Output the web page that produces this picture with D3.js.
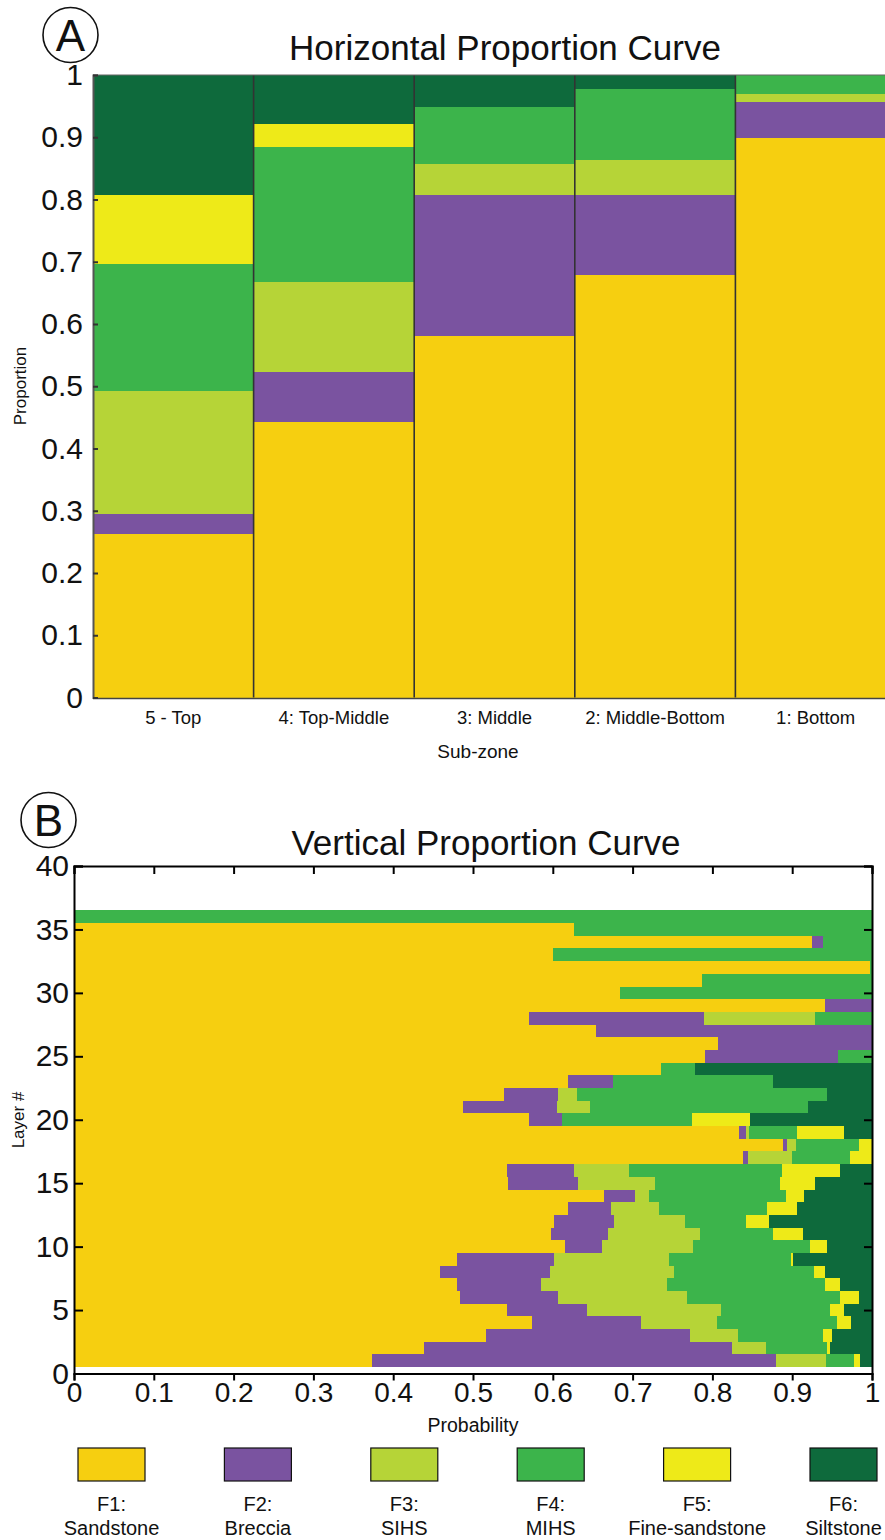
<!DOCTYPE html>
<html>
<head>
<meta charset="utf-8">
<script src="https://cdn.jsdelivr.net/npm/d3@7"></script>
<style>
  html, body { margin: 0; padding: 0; background: #fff; }
  svg { display: block; font-family: "Liberation Sans", Arial, Helvetica, sans-serif; }
</style>
</head>
<body>
<svg id="chart" width="885" height="1540"></svg>
<script>
// Facies definitions
const facies = ["F1", "F2", "F3", "F4", "F5", "F6"];
const faciesNames = ["Sandstone", "Breccia", "SIHS", "MIHS", "Fine-sandstone", "Siltstone"];
const faciesColors = ["#F6CF10", "#7A53A0", "#B6D437", "#3CB44B", "#EEEA18", "#0E6A3C"];

// Horizontal proportion curve: proportion of each facies per sub-zone
const subZones = ["5 - Top", "4: Top-Middle", "3: Middle", "2: Middle-Bottom", "1: Bottom"];
const hF1 = [0.262, 0.442, 0.580, 0.679, 0.899];
const hF2 = [0.033, 0.081, 0.227, 0.128, 0.058];
const hF3 = [0.198, 0.145, 0.050, 0.057, 0.012];
const hF4 = [0.203, 0.216, 0.092, 0.113, 0.031];
const hF5 = [0.112, 0.038, 0.000, 0.000, 0.000];
const hF6 = [0.192, 0.078, 0.051, 0.023, 0.000];
const propTicks = [0, 0.1, 0.2, 0.3, 0.4, 0.5, 0.6, 0.7, 0.8, 0.9, 1];

// Vertical proportion curve: probability of each facies per layer (layer 1 .. 36)
const layers = d3.range(1, 37);
const vF1 = [0.374, 0.438, 0.516, 0.574, 0.542, 0.484, 0.480, 0.459, 0.480, 0.615,
             0.598, 0.602, 0.619, 0.664, 0.544, 0.542, 0.838, 0.889, 0.833, 0.570,
             0.488, 0.539, 0.619, 0.736, 0.791, 0.807, 0.654, 0.570, 0.941, 0.684,
             0.787, 0.998, 0.600, 0.925, 0.627, 0.000];
const vF2 = [0.506, 0.386, 0.256, 0.137, 0.101, 0.123, 0.105, 0.137, 0.122, 0.047,
             0.071, 0.075, 0.054, 0.039, 0.087, 0.084, 0.007, 0.005, 0.009, 0.041,
             0.117, 0.068, 0.056, 0.000, 0.166, 0.193, 0.346, 0.219, 0.059, 0.000,
             0.000, 0.000, 0.000, 0.013, 0.000, 0.000];
const vF3 = [0.062, 0.043, 0.060, 0.095, 0.168, 0.161, 0.158, 0.156, 0.144, 0.114,
             0.116, 0.089, 0.060, 0.017, 0.097, 0.070, 0.055, 0.011, 0.004, 0.000,
             0.041, 0.023, 0.000, 0.000, 0.000, 0.000, 0.000, 0.140, 0.000, 0.000,
             0.000, 0.000, 0.000, 0.000, 0.000, 0.000];
const vF4 = [0.035, 0.076, 0.107, 0.150, 0.136, 0.192, 0.198, 0.175, 0.153, 0.146,
             0.091, 0.076, 0.136, 0.172, 0.157, 0.191, 0.072, 0.079, 0.060, 0.164,
             0.274, 0.313, 0.201, 0.042, 0.043, 0.000, 0.000, 0.071, 0.000, 0.316,
             0.213, 0.002, 0.400, 0.062, 0.373, 1.000];
const vF5 = [0.008, 0.004, 0.011, 0.018, 0.018, 0.024, 0.019, 0.014, 0.002, 0.021,
             0.037, 0.029, 0.037, 0.023, 0.044, 0.073, 0.028, 0.016, 0.059, 0.072,
             0.000, 0.000, 0.000, 0.000, 0.000, 0.000, 0.000, 0.000, 0.000, 0.000,
             0.000, 0.000, 0.000, 0.000, 0.000, 0.000];
const vF6 = [0.015, 0.053, 0.050, 0.026, 0.035, 0.016, 0.040, 0.059, 0.099, 0.057,
             0.087, 0.129, 0.094, 0.085, 0.071, 0.040, 0.000, 0.000, 0.035, 0.153,
             0.080, 0.057, 0.124, 0.222, 0.000, 0.000, 0.000, 0.000, 0.000, 0.000,
             0.000, 0.000, 0.000, 0.000, 0.000, 0.000];
const probTicks = [0, 0.1, 0.2, 0.3, 0.4, 0.5, 0.6, 0.7, 0.8, 0.9, 1];
const layerTicks = [0, 5, 10, 15, 20, 25, 30, 35, 40];

const svg = d3.select("#chart");
const stack = d3.stack().keys(facies);
const colorOf = d3.scaleOrdinal().domain(facies).range(faciesColors);

// Circled panel letters
function panelTag(cx, cy, letter) {
  const g = svg.append("g");
  g.append("circle").attr("cx", cx).attr("cy", cy).attr("r", 27.5)
    .attr("fill", "none").attr("stroke", "#111").attr("stroke-width", 1.6);
  g.append("text").attr("x", cx).attr("y", cy + 15.5).attr("text-anchor", "middle")
    .attr("font-size", 44).attr("fill", "#111").text(letter);
}

// ---------------- Panel A: horizontal proportion curve ----------------
(function () {
  const rows = subZones.map((z, i) => ({
    zone: z, F1: hF1[i], F2: hF2[i], F3: hF3[i], F4: hF4[i], F5: hF5[i], F6: hF6[i]
  }));
  const x = d3.scaleBand().domain(subZones).range([93, 896]).padding(0);
  const y = d3.scaleLinear().domain([0, 1]).range([697.5, 75]);
  const series = stack(rows);

  const g = svg.append("g");
  g.selectAll("g.layer").data(series).join("g")
    .attr("fill", d => colorOf(d.key))
    .selectAll("rect").data(d => d.filter(p => p[1] - p[0] > 0)).join("rect")
    .attr("x", d => x(d.data.zone))
    .attr("width", x.bandwidth())
    .attr("y", d => y(d[1]))
    .attr("height", d => y(d[0]) - y(d[1]))
    .attr("shape-rendering", "crispEdges");

  // column dividers
  g.selectAll("line.div").data(subZones.slice(1)).join("line")
    .attr("x1", d => x(d)).attr("x2", d => x(d))
    .attr("y1", y(1)).attr("y2", y(0))
    .attr("stroke", "#333").attr("stroke-width", 1.6);

  // frame
  g.append("line").attr("x1", 93).attr("x2", 896).attr("y1", y(1)).attr("y2", y(1))
    .attr("stroke", "#666").attr("stroke-width", 1.2);
  g.append("line").attr("x1", 93).attr("x2", 896).attr("y1", y(0) + 1).attr("y2", y(0) + 1)
    .attr("stroke", "#444").attr("stroke-width", 1.4);

  const yAxis = d3.axisLeft(y).tickValues(propTicks).tickSize(-5).tickPadding(10)
    .tickFormat(d => d3.format("")(d));
  const ya = svg.append("g").attr("transform", "translate(93,0)").call(yAxis);
  ya.select(".domain").attr("stroke", "#555").attr("stroke-width", 1.4);
  ya.selectAll(".tick line").attr("stroke", "#333");
  ya.selectAll("text").attr("font-size", 30).attr("fill", "#111")
    .attr("font-family", "Liberation Sans, Arial, sans-serif");

  const xAxis = d3.axisBottom(x).tickSize(0).tickPadding(13);
  const xa = svg.append("g").attr("transform", "translate(0,698)").call(xAxis);
  xa.select(".domain").remove();
  xa.selectAll("text").attr("font-size", 18.5).attr("fill", "#111")
    .attr("font-family", "Liberation Sans, Arial, sans-serif");

  svg.append("text").attr("x", 478).attr("y", 758).attr("text-anchor", "middle")
    .attr("font-size", 19).attr("fill", "#111").text("Sub-zone");
  svg.append("text").attr("transform", "translate(26,386) rotate(-90)")
    .attr("text-anchor", "middle").attr("font-size", 17).attr("fill", "#111").text("Proportion");
  svg.append("text").attr("x", 505).attr("y", 60).attr("text-anchor", "middle")
    .attr("font-size", 35).attr("fill", "#111").text("Horizontal Proportion Curve");
  panelTag(70.5, 35, "A");
})();

// ---------------- Panel B: vertical proportion curve ----------------
(function () {
  const rows = layers.map((L, i) => ({
    layer: L, F1: vF1[i], F2: vF2[i], F3: vF3[i], F4: vF4[i], F5: vF5[i], F6: vF6[i]
  }));
  const x = d3.scaleLinear().domain([0, 1]).range([74, 872]);
  const y = d3.scaleLinear().domain([0, 40]).range([1373.5, 866]);
  const series = stack(rows);

  const g = svg.append("g");
  g.selectAll("g.layer").data(series).join("g")
    .attr("fill", d => colorOf(d.key))
    .selectAll("rect").data(d => d.filter(p => p[1] - p[0] > 0)).join("rect")
    .attr("x", d => x(d[0]))
    .attr("width", d => Math.max(0, x(d[1]) - x(d[0])))
    .attr("y", d => y(d.data.layer + 0.5))
    .attr("height", d => y(d.data.layer - 0.5) - y(d.data.layer + 0.5))
    .attr("shape-rendering", "crispEdges");

  const ink = "#111";
  const left = svg.append("g").attr("transform", "translate(74,0)")
    .call(d3.axisLeft(y).tickValues(layerTicks).tickSize(-9).tickPadding(5));
  left.selectAll("text").attr("font-size", 30).attr("fill", ink)
    .attr("font-family", "Liberation Sans, Arial, sans-serif");
  const bottom = svg.append("g").attr("transform", "translate(0,1373.5)")
    .call(d3.axisBottom(x).tickValues(probTicks).tickSize(7).tickPadding(2)
      .tickFormat(d => d3.format("")(d)));
  bottom.selectAll("text").attr("font-size", 28).attr("fill", ink)
    .attr("font-family", "Liberation Sans, Arial, sans-serif");
  svg.append("g").attr("transform", "translate(0,866)")
    .call(d3.axisTop(x).tickValues(probTicks).tickSize(-8).tickFormat(""));
  svg.append("g").attr("transform", "translate(872,0)")
    .call(d3.axisRight(y).tickValues(layerTicks).tickSize(-8).tickFormat(""));
  svg.selectAll(".domain").attr("stroke-width", 2);
  svg.selectAll(".tick line").attr("stroke-width", 2);

  svg.append("text").attr("x", 473).attr("y", 1432).attr("text-anchor", "middle")
    .attr("font-size", 19.5).attr("fill", ink).text("Probability");
  svg.append("text").attr("transform", "translate(24,1120) rotate(-90)")
    .attr("text-anchor", "middle").attr("font-size", 17).attr("fill", ink).text("Layer #");
  svg.append("text").attr("x", 486).attr("y", 855).attr("text-anchor", "middle")
    .attr("font-size", 35).attr("fill", ink).text("Vertical Proportion Curve");
  panelTag(48.5, 820, "B");
})();

// ---------------- Legend ----------------
(function () {
  const lx = d3.scalePoint().domain(facies).range([111.5, 843.5]);
  const g = svg.append("g");
  const item = g.selectAll("g").data(facies).join("g")
    .attr("transform", d => `translate(${lx(d)},0)`);
  item.append("rect").attr("x", -33.5).attr("y", 1448).attr("width", 67).attr("height", 33)
    .attr("fill", d => colorOf(d)).attr("stroke", "#111").attr("stroke-width", 1.2);
  item.append("text").attr("y", 1511).attr("text-anchor", "middle")
    .attr("font-size", 20).attr("fill", "#111").text(d => d + ":");
  item.append("text").attr("y", 1535).attr("text-anchor", "middle")
    .attr("font-size", 20).attr("fill", "#111").text((d, i) => faciesNames[i]);
})();
</script>
</body>
</html>
